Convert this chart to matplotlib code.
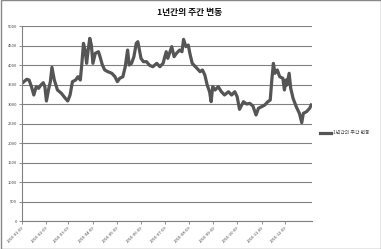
import matplotlib
matplotlib.use("Agg")
import matplotlib.pyplot as plt
import numpy as np
import pandas as pd
from matplotlib.patches import Rectangle

plt.rcParams['font.family'] = ['Noto Sans CJK KR', 'DejaVu Sans']

title = "1년간의 주간 변동"
series_name = "1년간의 주간 변동"
start_date = "2010-01-09"
day_offsets = [0, 6, 9, 12, 15, 18, 21, 24, 27, 29, 31, 34, 36, 38, 41, 45, 50, 55, 58, 61,
               64, 68, 71, 74, 76, 78, 80, 82, 84, 86, 88, 90, 93, 97, 99, 102, 105, 109, 114, 118,
               121, 124, 128, 131, 134, 136, 139, 142, 145, 147, 151, 154, 158, 162, 166, 171, 175, 179, 183, 185,
               190, 193, 196, 200, 203, 205, 208, 211, 213, 216, 222, 226, 229, 232, 235, 238, 240, 242, 245, 249,
               253, 257, 262, 266, 270, 273, 276, 281, 285, 289, 293, 297, 300, 304, 308, 312, 315, 317, 319, 321,
               324, 327, 331, 333, 335, 336, 339, 341, 344, 348, 352, 355, 357, 361, 365, 367]
values = [3531, 3633, 3615, 3444, 3231, 3444, 3402, 3487, 3546, 3444, 3077, 3402, 3572, 3940, 3615, 3359, 3274, 3145, 3077, 3231,
          3572, 3615, 3700, 3615, 4043, 4556, 4384, 4043, 4384, 4684, 4512, 4043, 4299, 4341, 4213, 4000, 3872, 3828, 3787, 3700,
          3572, 3659, 3700, 3956, 4384, 4000, 4043, 4213, 4556, 4598, 4171, 4085, 4085, 3990, 3956, 4043, 3956, 4043, 4341, 4171,
          4470, 4213, 4299, 4384, 4340, 4658, 4470, 4512, 4299, 4043, 3915, 3828, 3872, 3744, 3487, 3315, 3059, 3444, 3359, 3444,
          3315, 3231, 3315, 3231, 3315, 3188, 2864, 3059, 3000, 3017, 2949, 2718, 2890, 2930, 2974, 3059, 3102, 3615, 4043, 3787,
          3872, 3700, 3659, 3359, 3615, 3487, 3787, 3402, 3145, 2930, 2761, 2521, 2761, 2802, 2890, 2974]
tick_labels = ["2010-01-09", "2010-02-09", "2010-03-09", "2010-04-09", "2010-05-09", "2010-06-09",
               "2010-07-09", "2010-08-09", "2010-09-09", "2010-10-09", "2010-11-09", "2010-12-09"]
y_ticks = [0, 500, 1000, 1500, 2000, 2500, 3000, 3500, 4000, 4500, 5000]

dates = pd.to_datetime(start_date) + pd.to_timedelta(day_offsets, unit="D")
tick_dates = pd.to_datetime(tick_labels)

fig = plt.figure(figsize=(3.81, 2.49), dpi=100)
fig.patch.set_facecolor("white")
ax = fig.add_axes([22/381, 28/249, 290/381, 195/249])

ax.plot(dates, values, color="#555555", linewidth=2.3, solid_joinstyle="round", label=series_name)

ax.set_ylim(0, 5000)
ax.set_yticks(y_ticks)
ax.set_yticklabels([str(v) for v in y_ticks], fontsize=3, color="#444444")
ax.set_xlim(pd.to_datetime(start_date), pd.to_datetime(start_date) + pd.Timedelta(days=368))
ax.set_xticks(tick_dates)
ax.set_xticklabels(tick_labels, fontsize=3, rotation=45, ha="right", rotation_mode="anchor", color="#444444")
ax.grid(axis="y", color="#808080", linewidth=0.8)
ax.set_axisbelow(True)
for s in ["top", "right"]:
    ax.spines[s].set_visible(False)
for s in ["left", "bottom"]:
    ax.spines[s].set_color("#808080")
    ax.spines[s].set_linewidth(0.8)
ax.tick_params(axis="both", length=2, width=0.6, color="#808080", pad=1.5)

fig.text(190/381, 1 - 13/249, title, ha="center", va="center", fontsize=6.3, fontweight="bold", color="#111111")

leg = ax.legend(loc="center left", bbox_to_anchor=(318/381, 1 - 133/249), bbox_transform=fig.transFigure,
                frameon=False, fontsize=3.5, handlelength=2.2, handletextpad=0.3, borderpad=0)
for t in leg.get_texts():
    t.set_color("#444444")

fig.patches.append(Rectangle((0.5/381, 0.5/249), 1 - 1/381, 1 - 1/249, transform=fig.transFigure,
                             fill=False, edgecolor="#888888", linewidth=1.0))

fig.savefig("out.png", dpi=100)
